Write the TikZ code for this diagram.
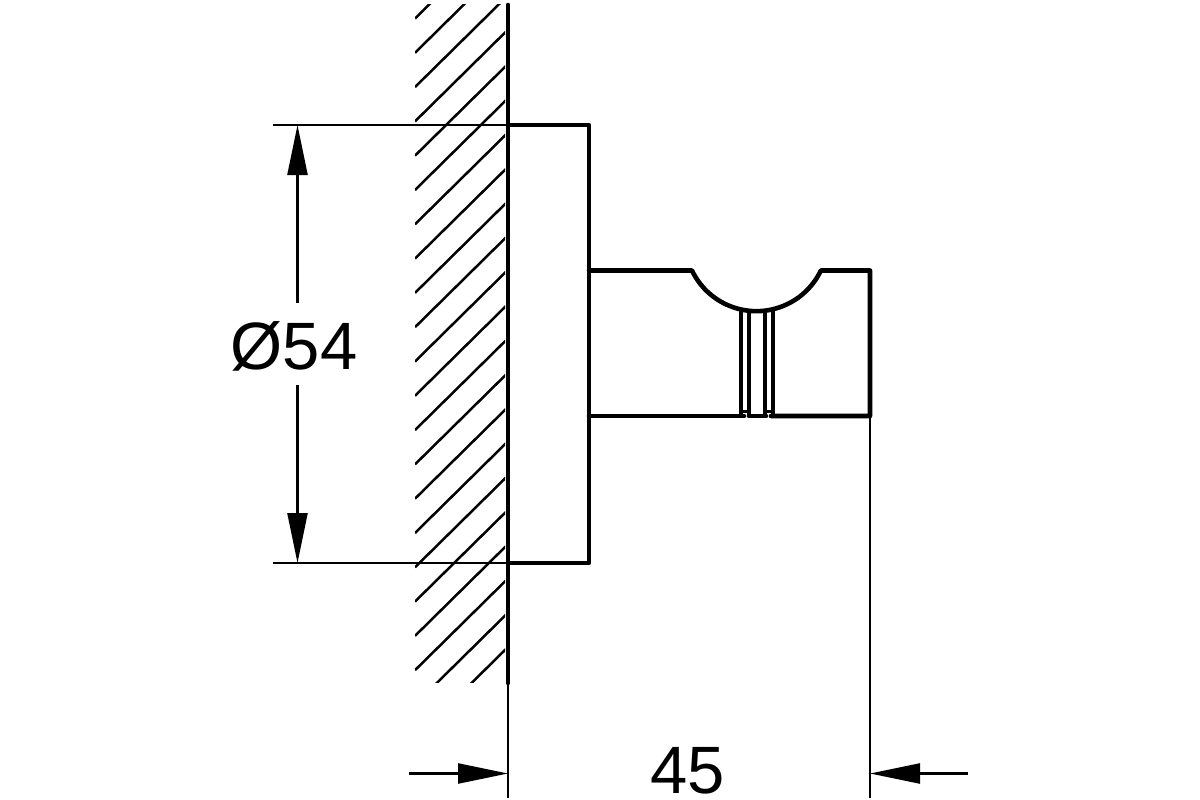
\documentclass[tikz,border=0pt]{standalone}
\usepackage{fontspec}
\setmainfont{Liberation Sans}
\usetikzlibrary{arrows.meta}
\usetikzlibrary{calc}

\begin{document}
\begin{tikzpicture}[
  x=1pt,y=-1pt,
  outline/.style={
    line width=4.6pt,line cap=round,line join=round
  },
  thinline/.style={
    line width=2.3pt
  },
  hatch/.style={
    line width=2.5pt
  },
  dim/.style={
    line width=2.3pt,
    -{Triangle[length=50pt,width=20pt]}
  },
  dimtext/.style={
    inner sep=0pt,font=\fontsize{67}{67}\selectfont
  },
]
  \def\wallx{508}%
  \def\platex{589}%
  \def\platetop{125}%
  \def\platebot{563}%
  \def\hooktop{270.5}%
  \def\hookbot{416}%
  \def\hookend{870}%
  \def\dimy{773.5}%
  \def\dimx{297.5}%

  \useasboundingbox (0,0) rectangle (1200,800);

    % Wall hatching
    \begin{scope}
      \clip (415,5) rectangle (505,682);
      \foreach \k in {0,...,21} {
        \draw[hatch] (415,18.5 + 34.3*\k) -- ++(150,-148);
      }
    \end{scope}

    % Wall
    \coordinate (wall_top) at (\wallx,5);
    \coordinate (wall_end) at (\wallx,683);
    \coordinate (wall_low) at (\wallx,798);
    \draw[outline] (wall_top) -- (wall_end);
    \draw[thinline] (wall_end) -- (wall_low);

    % Plate
    \draw[outline] (\wallx,\platetop) -- (\platex,\platetop) 
        -- (\platex,\platebot) -- (\wallx,\platebot);

    % Hook
    \draw[outline] (\platex,\hooktop) -- (692,\hooktop) 
        arc[start angle=154.5,end angle=25.5,radius=71.4] 
        -- (\hookend,\hooktop) -- (\hookend,\hookbot) -- (771,\hookbot);
    \draw[outline] (766,\hookbot) -- (749,\hookbot);
    \draw[outline] (744,\hookbot) -- (\platex,\hookbot);
    \foreach \groove in {741,749,765,773} {
        \draw[line width=4pt] (\groove,310) -- (\groove,\hookbot);
    }
    \draw[line width=3pt] (741,411.5) -- (749,411.5);
    \draw[line width=3pt] (765,411.5) -- (773,411.5);

    % Diameter
    \coordinate (ext_a) at (273,\platetop);
    \coordinate (ext_b) at (273,\platebot);
    \coordinate (plate_a) at (\wallx,\platetop);
    \coordinate (plate_b) at (\wallx,\platebot);
    \coordinate (tip_a) at (\dimx,\platetop);
    \coordinate (tip_b) at (\dimx,\platebot);
    \draw[thinline] (ext_a) -- (plate_a);
    \draw[thinline] (ext_b) -- (plate_b);
    \node[dimtext] (dia_label) at (294,346) {Ø54};
    \coordinate (gap_a) at (\dimx,303);
    \coordinate (gap_b) at (\dimx,385);
    \draw[dim] (gap_a) -- (tip_a);
    \draw[dim] (gap_b) -- (tip_b);

    % Depth
    \coordinate (ext_c) at (\hookend,\hookbot);
    \coordinate (ext_d) at (\hookend,798);
    \draw[thinline] (ext_c) -- (ext_d);
    \coordinate (from_a) at (409,\dimy);
    \coordinate (from_b) at (968,\dimy);
    \coordinate (tip_c) at (\wallx,\dimy);
    \coordinate (tip_d) at (\hookend,\dimy);
    \draw[dim] (from_a) -- (tip_c);
    \draw[dim] (from_b) -- (tip_d);
    \node[dimtext] (depth_label) at (687.5,770.5) {45};

\end{tikzpicture}
\end{document}
